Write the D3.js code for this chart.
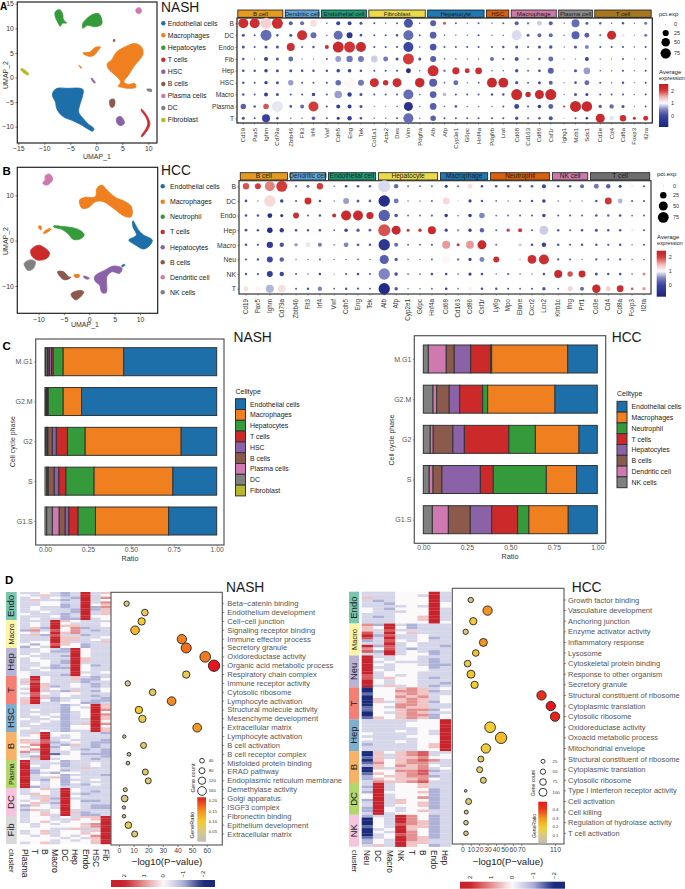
<!DOCTYPE html>
<html><head><meta charset="utf-8">
<script src="https://cdn.jsdelivr.net/npm/d3@7"></script>
<style>html,body{margin:0;padding:0;background:#fff}svg{display:block;font-family:"Liberation Sans",Arial,sans-serif}</style>
</head><body><svg id="fig" width="685" height="889"></svg>
<script>
// ---------- shared category colours
const blue="#1c6fa8",orange="#f07f1f",green="#359a39",red="#cc2a2a",purple="#8b62a8",brown="#8b5a4c",pink="#d078b0",gray="#808080",olive="#b6b82a";

// ---------- A: UMAP NASH
const umapNames=["Endothelial cells","Macrophages","Hepatocytes","T cells","HSC","B cells","Plasma cells","DC","Fibroblast"];
const umapColors=[blue,orange,green,red,purple,brown,pink,gray,olive];
const blobsA=[
 {c:0,p:[[-8.3,-2.9],[-7.5,-2.2],[-5.7,-2.2],[-2.6,-2.4],[-2.6,-3.6],[-3.1,-5.3],[-3.4,-7],[-2.8,-8],[-1.5,-9.5],[-.45,-10.4],[-.7,-10.9],[-1.7,-10.4],[-3.1,-9.5],[-4.7,-8.7],[-6.3,-8],[-7.5,-6.6],[-7.9,-4.9],[-8.4,-3.8]]},
 {c:1,p:[[3.9,5.2],[5.5,6.2],[7.4,6.9],[8.7,6.2],[9,4.9],[8.4,3.7],[7.4,2.5],[6.2,.5],[5.3,-.9],[6.2,-1.4],[7.4,-1.2],[7.6,-2],[6.2,-2.2],[4.9,-2],[4.2,-1.8],[4.7,-.9],[3.6,.5],[2.3,1.8],[2.1,2.8],[2.9,3.5]]},
 {c:1,p:[[-2.6,5],[-1.2,5.2],[-.25,6.1],[.8,6.2],[.4,5.6],[-.45,4.5],[-1.2,4.3],[-2,4.5]]},
 {c:1,p:[[-3.4,2.5],[-2.8,2],[-3,1.9],[-3.3,2.4]]},
 {c:2,p:[[-7.9,13.3],[-7.1,13.8],[-6.5,13],[-6.3,11.7],[-5.7,11.1],[-6.6,11],[-6.9,10.4],[-7.5,11.4],[-7.9,12.4]]},
 {c:2,p:[[-2.6,11],[-2,11.8],[-.9,12.7],[.4,13],[1,12],[1,10.8],[-.25,10.3],[-1.7,10.6],[-2.6,10]]},
 {c:6,p:[[7.6,13.8],[8.3,14.2],[8.7,13.7],[8.4,13],[7.8,13.1]]},
 {c:8,p:[[-14.5,1.8],[-14,1.7],[-13,.7],[-13.2,.5],[-14.5,1.5]]},
 {c:4,p:[[-1,-.2],[-.8,-.2],[-.2,-1.1],[-.4,-1.1]]},
 {c:4,p:[[3.9,-8.3],[4.6,-7.9],[5.2,-8.5],[5.4,-9.3],[4.7,-9.8],[4,-9.3]]},
 {c:5,p:[[2.6,-4.6],[3.4,-4.4],[3.6,-5.1],[3.3,-6],[2.8,-6]]},
 {c:5,p:[[3.3,7.7],[3.6,7.7],[3.5,7.3],[3.3,7.3]]},
 {c:3,p:[[8.65,-6.4],[9.7,-7.7],[10.3,-9.35],[10,-10.4],[8.7,-12.1],[8.65,-11.9],[9.55,-10.4],[9.9,-9.35],[9.5,-8],[8.6,-6.6]]},
 {c:7,p:[[9.7,-2.4],[10.6,-2.4],[10.6,-2.85],[9.9,-2.7]]}
];

// ---------- B: UMAP HCC
const umapNamesB=["Endothelial cells","Macrophages","Neutrophil","T cells","Hepatocytes","B cells","Dendritic cell","NK cells"];
const umapColorsB=[blue,orange,green,red,purple,brown,pink,gray];
const blobsB=[
 {c:0,p:[[8.6,4.4],[9.7,2.35],[10.7,1.25],[12.4,.15],[12,-.95],[10.7,-1.85],[9.1,-.95],[7.8,.15],[8.75,.75],[9.3,1.25],[8.6,3.1]]},
 {c:1,p:[[-1.9,8.95],[-.8,9.55],[1.2,9.7],[1.5,11.5],[2.5,12.25],[3.5,11.15],[5.1,9.55],[7.1,8.6],[8.3,7.5],[8.3,5.3],[7.1,5.3],[4.8,7.1],[2.8,8.6],[1.2,8.6],[-.15,7.3],[-1.45,7.15]]},
 {c:1,p:[[-10,3.2],[-9.5,3.2],[-9.5,2.35],[-9.8,2.55]]},
 {c:1,p:[[-9,1.85],[-7.7,2.7],[-7.55,2.5],[-8.9,1.55]]},
 {c:2,p:[[-7,3.25],[-5.05,3.1],[-2.75,2.7],[-1.45,2],[-1,1.25],[-1.8,.35],[-3.2,.3],[-4.1,1.45],[-5.4,2.5],[-7,3]]},
 {c:3,p:[[-11.5,-2.05],[-10,-1],[-9,-1.45],[-7.85,-2.65],[-8.35,-3.9],[-10.3,-4.25],[-11.3,-3.4]]},
 {c:7,p:[[-12.8,-5],[-11.65,-4.25],[-10.65,-4.6],[-11,-6.1],[-12,-6.6],[-12.6,-5.9]]},
 {c:6,p:[[-8.7,14.25],[-7.85,14.7],[-7.2,13.5],[-8.35,12.25],[-9.15,12.6],[-8.7,13.5]]},
 {c:4,p:[[1.05,-7.9],[3.15,-6.45],[4.8,-5.6],[6.45,-6.1],[6,-7.2],[4.5,-6.85],[3.5,-7.9],[3.35,-11.45],[2.5,-11.45],[2,-9.75],[1.2,-9]]},
 {c:4,p:[[-1.1,-7.8],[.05,-8.3],[-.35,-8.5],[-1,-8.2]]},
 {c:1,p:[[-3,-7.55],[-1.9,-7.55],[-2.1,-8.1],[-2.75,-8.1]]},
 {c:5,p:[[-6.25,-6.85],[-5.05,-6.85],[-4.1,-7.95],[-3.6,-8.1],[-4.75,-8.65],[-5.6,-8.1]]},
 {c:5,p:[[-3.6,-11.8],[-2.1,-11],[-1.1,-11.25],[-1.8,-12.5],[-2.75,-13.05]]},
 {c:0,p:[[6.4,-5.5],[6.95,-5.2],[7,-5.4],[6.5,-5.8]]}
];

// ---------- A: dot plot
const genesA=["Cd19","Pax5","Ighm","Cd79a","Zbtb46","Flt3","Irf4","Vwf","Cdh5","Eng","Tek","Col1a1","Acta2","Des","Vim","Pdgfra","Alb","Afp","Cyp3e1","G6pc","Hnf4a","Pdgfrb","Lrat","Cd68","Cd163","Cd86","Csf1r","Ighg1","Mzb1","Sdc1","Cd3e","Cd4","Cd8a","Foxp3","Il2ra"];
const stripNamesA=["B cell","Dendritic cell","Endothelial cell","Fibroblast","Hepatocyte","HSC","Macrophage","Plasma cell","T cell"];
const stripSizesA=[4,3,4,5,5,2,4,3,5];
const stripColorsA=["#e39a1e","#5da5da","#1b9e77","#ebd94a","#1f78b4","#d95f0e","#cc79a7","#8a8a8a","#a6761d"];
const rowsA=["B","DC","Endo","Fib","Hep","HSC","Macro","Plasma","T"];
const pctA=[
 [61,61,75,75, 8,8,26, .5,8,8,4, 1.4,.5,1.4,49,.5, 20,4,1.4,.5,1.4, .5,1.4, 8,2.3,13,8, .5,38,4, 2.3,.7,2.3,.5,4],
 [4,1.4,75,2.3, 4,61,20, .5,49,20,2.8, 1.4,1.4,2.3,61,1.4, 26,.7,.5,.5,1.4, .5,.5, 61,4,8,8, .5,38,13, 1.4,49,4,.2,4],
 [4,1.4,4,4, 38,1.4,2.3, 8,75,75,61, 1.4,1.4,1.4,61,.7, 26,1.4,1.4,1.4,1.4, 1.4,2.3, 4,1.4,4,5.4, .5,4,8, 1.4,1.4,1.4,.5,1.4],
 [2.3,.5,8,4, 13,.5,.5, 1.4,20,23,20, 26,13,4,75,4, 20,.7,.7,.5,.5, 8,1.4, 8,.7,2.3,13, .2,.5,8, .5,.4,1.4,.2,.7],
 [2.8,2.3,6,4, 4,2.8,2.3, 2.3,6,6,2.8, 1.4,1.4,1.4,13,.5, 75,2.3,30,13,26, .7,.7, 6,1.4,3.4,20, .2,4,26, .7,.5,1.4,.4,1.4],
 [2.3,1.4,5.4,4, 16,1.4,1.4, 1.4,17,75,20, 49,16,49,61,55, 38,1,13,.5,1, 60,60, 4.7,1.4,4,8, .4,2.8,13, 1.4,.5,2.3,.4,1.4],
 [2.3,1.4,8,4, 1.4,1.4,5.4, 1.4,34,10,4, 1.4,1.4,1.4,61,.7, 26,6,1.4,1.4,1.4, 2.3,2.3, 75,16,49,75, .5,4,4, 1.4,1.4,1.4,.5,1.4],
 [16,2.3,17,75, 2.8,8,61, 1.4,8,8,4, .4,.2,.7,49,.5, 26,.7,2.8,.5,.5, .5,1.4, 13,1.4,6,13, 1.4,75,67, 5.4,10,4,.2,1.4],
 [4,1.4,38,2.8, .7,.7,6, 1.4,4,10,2.8, .5,.5,1.4,61,.5, 17,1.4,1.4,1.4,1.4, 1.4,1.4, 5.4,1.4,2.8,8, .2,1.4,2.3, 49,13,23,4,13]
];
const expA=[
 [2.2,2.2,1.3,2.2, .2,.3,1.2, 0,-.1,0,.1, .1,.3,.2,.1,.1, .2,1.9,.2,.3,.2, .3,.2, .2,.5,.8,.2, .3,.3,.2, .2,.3,.1,.3,.4],
 [.1,.1,.3,.1, .1,2.2,.3, .2,.3,-.4,.1, .1,.1,.1,.3,.2, .2,.3,.3,.3,.1, .3,.3, .85,.2,.3,.3, .3,.2,.2, .2,2.3,.9,.5,.4],
 [.1,.1,0,.1, 2.2,.1,.1, 2.2,2.3,2.1,2.3, .1,.1,.1,0,.2, .1,.1,.1,.1,.1, .1,.1, .1,.1,.1,.1, .3,.1,.5, .1,.1,.1,.2,.1],
 [.1,.5,-.2,.1, .3,.5,.5, .1,.6,.4,.4, .8,.4,.1,2,.1, .2,.3,.3,.3,.3, .3,.1, .1,.3,.1,.3, .5,.5,0, .4,.5,.2,.5,.3],
 [.1,.1,-.1,.1, .1,.1,.1, .1,-.1,-.1,.1, .1,.1,.1,-.6,.2, 2.2,.4,2.2,2.2,2.2, .3,.3, .1,.3,.1,.2, .6,.1,.6, .2,.3,.1,.4,.1],
 [.1,.1,-.1,.1, .6,.1,.1, .1,.3,1.05,.4, 2.2,2.2,2.2,1,2.3, .2,.3,.3,.4,.1, 2.3,2.3, .1,.2,.1,.2, .4,.1,.3, .1,.3,.1,.4,.1],
 [.1,.1,-.1,.1, .1,.1,-.1, .1,.6,-.2,.1, .1,.1,.1,.3,.2, .2,.7,.1,.1,.1, .1,.1, 2.3,2.3,2.3,2.3, .4,.1,-.1, .1,.1,.1,.3,.1],
 [.2,.1,1.9,.9, .1,.3,2, .1,-.1,-.2,.1, .5,.5,.3,-.5,.3, .2,.4,.2,.3,.3, .3,.1, 0,.1,-.1,.2, 2.2,2.3,2.3, .2,.3,.1,.5,.2],
 [.1,.1,-.1,.1, .3,.3,.2, .2,-.3,-.2,.1, .4,.4,.1,.3,.3, .2,.1,.1,.1,.1, .1,.1, .1,.2,.1,.1, .6,.1,-.5, 2.3,.9,2.2,2.2,2.2]
];

// ---------- B: dot plot
const genesB=["Cd19","Pax5","Ighm","Cd79a","Zbtb46","Flt3","Irf4","Vwf","Cdh5","Eng","Tek","Alb","Afp","Cyp2e1","G6pc","Hnf4a","Cd68","Cd163","Cd86","Csf1r","Ly6g","Mpo","Elane","Cxcr2","Lcn2","Klrb1c","Ifng","Prf1","Cd3e","Cd4","Cd8a","Foxp3","Il2ra"];
const stripNamesB=["B cell","Dendritic cell","Endothelial cell","Hepatocyte","Macrophage","Neutrophil","NK cell","T cell"];
const stripSizesB=[4,3,4,5,4,5,3,5];
const stripColorsB=["#e39a1e","#5da5da","#1b9e77","#ebd94a","#1f78b4","#d95f0e","#cc79a7","#6e6e6e"];
const rowsB=["B","DC","Endo","Hep","Macro","Neu","NK","T"];
const pctB=[
 [23,20,61,75, 1.4,4,23, .7,2.8,2.8,2.3, 90,10,1.4,1.4,1.4, 4,1.4,13,2.3, 2.8,2.8,2.3,2.8,8, 2.8,2.8,8, 13,10,4,.7,1.4],
 [2.8,.7,81,6, 1.4,28,2.3, .5,20,4,2.8, 81,13,.7,.7,1.4, 28,.7,4.7,2.3, 1,.7,1.4,2.3,6, .7,.5,.5, 2.3,28,13,1.4,1.4],
 [2.8,2.3,12,4.7, 20,1.4,2.3, 8,61,61,30, 81,6,1.4,1.4,1.8, 6,1,6,17, 1,1.4,1.4,1.4,5.4, 1.4,1.4,1.4, 2.8,2.3,2.8,1,1.4],
 [3.4,2.3,17,10, 2.8,2.3,2.8, 1,6,5.4,3.4, 90,49,4,5.4,38, 4.7,2.3,5.4,10, 1.4,4.7,8,1.4,49, 2.3,1.4,2.3, 4,2.3,2.3,.7,1.4],
 [2.8,1.8,23,10, 6,13,8, .7,12,3.4,2.3, 81,8,1.4,1.4,1.8, 38,4,38,49, 1.4,.5,4.7,2.8,10, 2.3,1.4,2.3, 2.3,1.8,2.3,.7,1.4],
 [1.4,2.3,20,10, .5,.7,1.4, .5,.7,1,.5, 50,4.7,.7,.7,1.4, 38,2.3,4.7,13, 20,.7,1.4,47,61, 1.8,1.4,.25, 1.8,1,1.8,.7,.7],
 [2.3,1.8,20,10, 1.4,.7,2.3, .25,1.4,2.8,1.4, 81,6.3,1,1,2.8, 2.3,1,4.7,2.8, .7,1.4,.7,.5,2.8, 38,16,28, 4,2.3,2.8,1,4],
 [13,8,38,34, 1.4,2.3,10, 1,2.3,1.8,1, 81,5.4,.7,.7,1, 2.8,1,8,2.8, 2.3,1.4,1,1.4,5.4, 1,13,8, 42,13,26,2.8,5.4]
];
const expB=[
 [1.9,2,1.7,2, .1,.3,2, .3,0,.1,.1, .85,.3,.3,.4,.3, -.3,.2,1.2,-.1, .1,.1,.1,.1,0, .1,.1,.3, .4,.2,0,1.3,.1],
 [.1,.5,1.25,0, .1,2.2,.1, .3,.6,.2,.2, -.6,.4,.4,.4,.2, 1.25,.8,-.1,.1, .3,.4,.1,.1,-.1, .3,.4,.4, .1,2.1,.7,.1,.1],
 [.1,.1,-.6,-.1, 2.2,.2,.1, 2.2,2.3,2.3,2.3, .2,.1,.3,.4,.2, -.2,.5,-.2,.5, .3,.3,.2,.1,-.1, .1,.1,.2, .1,.2,.1,.3,.2],
 [.1,.1,-.6,-.2, .1,.1,.1, .3,0,.2,.2, 1.9,2.3,2.1,2.1,2.3, -.1,.6,-.1,.2, .2,2,2.1,.1,.8, .1,.2,.1, .1,.1,.1,.8,.1],
 [.1,.1,-.3,.1, .6,.9,.4, .3,.5,.2,.1, -.4,.3,.3,.3,.2, 1.6,2.1,1.6,2.3, .3,1,.8,.1,-.1, .1,.1,.1, .1,.1,.1,.4,.1],
 [.1,.1,0,.2, .4,.3,.2, .3,.3,.2,.3, .2,.1,.3,.3,.2, 1.05,.4,-.1,.5, 2.2,1,.8,2.2,2.2, .1,.2,.3, .1,.1,.1,.3,.2],
 [.1,.1,-.2,0, .1,.3,0, .4,.1,.1,.1, .5,.1,.2,.3,.1, -.1,.4,-.1,.1, .3,.1,.2,.3,.1, 2.3,1.9,2.3, .1,.1,.1,.4,1.7],
 [1.2,1.1,.7,1.2, .1,.1,.5, .2,.1,.1,.1, -.7,.1,.3,.3,.2, -.2,.4,1.1,.1, .1,.1,.1,.1,.1, .1,1.3,.3, 2.3,1.3,2.2,1.9,1.6]
];

// ---------- C: stacked bars
const phases=["M.G1","G2.M","G2","S","G1.S"];
const cellC1=["Endothelial cells","Macrophages","Hepatocytes","T cells","HSC","B cells","Plasma cells","DC","Fibroblast"];
const colorsC1=[blue,orange,green,red,purple,brown,pink,gray,olive];
const ratioC1=[
 [.542,.352,.058,.010,.012,.008,.004,.010,.004],
 [.787,.107,.087,.002,.004,.004,.001,.006,.002],
 [.207,.559,.103,.065,.023,.026,.005,.007,.005],
 [.255,.459,.164,.041,.027,.035,.003,.006,.010],
 [.280,.426,.101,.054,.021,.035,.040,.033,.010]
];
const cellC2=["Endothelial cells","Macrophages","Neutrophil","T cells","Hepatocytes","B cells","Dendritic cell","NK cells"];
const colorsC2=[blue,orange,green,red,purple,brown,pink,gray];
const ratioC2=[
 [.170,.437,.006,.115,.094,.046,.103,.029],
 [.243,.387,.029,.132,.060,.072,.021,.056],
 [.105,.251,.152,.256,.066,.113,.017,.040],
 [.119,.174,.305,.074,.221,.051,.022,.034],
 [.167,.226,.065,.149,.123,.126,.092,.052]
];

// ---------- D: heatmaps (digit 0..8 is -2..+2 z-score, in 0.5 steps)
const hmColsN=["Plasma","T","B","Macro","DC","Hep","Endo","HSC","Fib"];
const hmGroupsN=["Endo","Macro","Hep","T","HSC","B","Plasma","DC","Fib"];
const hmColorsN=["#78c7af","#fbf5a6","#b9b3d6","#f47f72","#7fafd0","#f8b267","#b1d86a","#f7c4de","#d9d9d9"];
const hmRowsN=[
 "334323835","435323834","343432836","353323834","334433836","334423845","343323826","343332825","334332835","433323835","333423844","343322834",
 "333854333","343843334","343855334","352846233","263746323","434856333","352733233","333855334","333855343","344853335","424754233","243844233",
 "334328433","334228433","343338433","433328433","343338533","344328533","334328333","334238423","343228433","334338433","433338334","433328433",
 "484335323","384335224","574333233","385334323","485234323","383433334","485325324","374344333","473343323","385233332","584234322","583344223",
 "333323485","333324385","343324486","333323484","343423486","334323485","433423385","334323384","343323586","333324484","433324485","334323385",
 "358444332","348434333","448334333","537343332","557234322","468325323","548243323","468343232","638334332","348134222","328444332","458344323",
 "833423333","833323343","843423343","833433533","824423333","823244333","834423332","833524333","832423343","843424333","843423243","823433333",
 "345384333","344384323","354383233","435384333","435283333","345384223","453284333","254384322","344384322","253483333","345485233","345383223",
 "344343558","344335458","345434448","434344568","434444368","444335538","345344358","345344548","434343468","444434358","444343458","345344458"
];
const hmColsH=["Neu","DC","Macro","NK","T","B","Endo","Hep"];
const hmGroupsH=["Endo","Macro","Neu","T","Hep","B","DC","NK"];
const hmColorsH=["#78c7af","#fbf5a6","#b9b3d6","#f47f72","#7fafd0","#f8b267","#b1d86a","#f7c4de"];
const hmRowsH=[
 "33344483","33344383","53344483","32344483","33244484","33334384","43244483","43334483","33344483","32344583","33344583","33344484",
 "62832333","54842333","53733333","73845333","82733433","73833423","23743433","33834333","82734332","64732333","72834323","33834423",
 "83344333","84344323","83433323","84344322","83344423","84344433","83444333","73434333","73544323","84344333","84344332","83534323",
 "04456534","04466523","14456533","04465634","05456534","05356524","04466533","14365533","14456624","04356533","04456624","15456524",
 "33333448","33334448","33334448","33333448","33343438","43333438","33334448","43333448","33343448","23333458","33333458","33333448",
 "05456733","05356734","15355644","05456763","16456633","25465643","05355634","04466723","15456733","24556623","25455643","36556733",
 "38344533","28344533","38344423","28444523","48344423","48344623","28354423","38354523","38344523","28434423","28434533","38344433",
 "23386423","04386423","04386523","04376523","14385523","03485423","04386423","03476423","13486523","24386533","24385533","35385423"
];

// ---------- D: enrichment dots
const termsN=["Beta\u2212catenin binding","Endothelium development","Cell\u2212cell junction","Signaling receptor binding","Immune effector process","Secretory granule","Oxidoreductase activity","Organic acid metabolic process","Respiratory chain complex","Immune receptor activity","Cytosolic ribosome","Lymphocyte activation","Structural molecule activity","Mesenchyme development","Extracellular matrix","Lymphocyte activation","B cell activation","B cell receptor complex","Misfolded protein binding","ERAD pathway","Endoplasmic reticulum membrane","Demethylase activity","Golgi apparatus","ISGF3 complex","Fibronectin binding","Epithelium development","Extracellular matrix"];
const pvalN=[5.2,17.7,15.5,11,43,46,59,65,46,6,23,36,13.6,16,53.5,3.6,16.8,6.8,6.1,18,20,4.3,3.9,3.4,3.4,6.4,10.7];
const countN=[60,100,120,160,180,200,220,240,120,60,100,160,120,120,160,0,80,10,10,80,80,20,100,0,5,100,80];
const ratioN=[.05,.07,.1,.12,.16,.17,.165,.22,.08,.05,.07,.155,.1,.085,.145,.04,.07,.03,.03,.07,.065,.05,.05,.03,.03,.075,.06];
const termsH=["Growth factor binding","Vasculature development","Anchoring junction","Enzyme activator activity","Inflammatory response","Lysosome","Cytoskeletal protein binding","Response to other organism","Secretory granule","Structural constituent of ribosome","Cytoplasmic translation","Cytosolic ribosome","Oxidoreductase activity","Oxoacid metabolic process","Mitochondrial envelope","Structural constituent of ribosome","Cytoplasmic translation","Cytosolic ribosome","Type I interferon receptor activity","Cell activation","Cell killing","Regulation of hydrolase activity","T cell activation"];
const pvalH=[10,30,13,4,25,16,6.3,10.3,14.6,94,105,110,33,46,28,22,20.6,25,4,7.5,4.7,4.4,4.4];
const countH=[50,125,87,50,100,75,75,100,87,125,125,125,150,162,125,62,62,62,0,62,25,37,37];
const ratioH=[.09,.3,.19,.1,.3,.22,.17,.21,.2,.43,.5,.45,.19,.23,.18,.14,.13,.13,.08,.12,.1,.1,.1];

// ---------- scales shared
const dotColor=d3.scaleLinear().domain([-.9,0,.5,1,1.5,2,2.5]).range(["#1a237e","#3c46a0","#7f85c2","#ffffff","#efb2b2","#d33a3a","#c01f26"]).clamp(true);
const dotSize=d3.scaleSqrt().domain([0,100]).range([.3,6.3]);
const zColor=d3.scaleLinear().domain([-2,-1,0,1,2]).range(["#1b2a7b","#aeb2d8","#fbf9fa","#e48f8f","#c8232c"]).clamp(true);
const ratioRange=["#bdbdbd","#d8c78a","#f4cc2e","#f39321","#ea3a1c","#e6141c"];
const ratioColorN=d3.scaleLinear().domain([0,.05,.1,.15,.2,.22]).range(ratioRange);
const ratioColorH=d3.scaleLinear().domain([0,.1,.2,.3,.4,.5]).range(ratioRange);

const svg=d3.select("#fig");
const defs=svg.append("defs");
let gradId=0;
function gradient(fn,vert){ // fn(t) color at t in [0,1]
 const id="g"+(gradId++);
 const g=defs.append("linearGradient").attr("id",id).attr("x1",0).attr("y1",vert?1:0).attr("x2",vert?0:1).attr("y2",0);
 d3.range(0,1.0001,.05).forEach(t=>g.append("stop").attr("offset",t).attr("stop-color",fn(t)));
 return "url(#"+id+")";
}
function text(x,y,s,size,o={}){
 const t=svg.append("text").attr("x",x).attr("y",y).attr("font-size",size).attr("fill",o.fill||"#1a1a1a").attr("text-anchor",o.anchor||"start").text(s);
 if(o.weight)t.attr("font-weight",o.weight);
 if(o.rot!=null){t.attr("transform",`rotate(${o.rot},${x},${y})`);}
 if(o.dy)t.attr("dy",o.dy);
 return t;
}
function frame(x0,y0,x1,y1,col,w){svg.append("rect").attr("x",x0).attr("y",y0).attr("width",x1-x0).attr("height",y1-y0).attr("fill","none").attr("stroke",col||"#222").attr("stroke-width",w||1.2);}
function styleAxis(g,size,col){
 g.select(".domain").remove();
 g.selectAll("line").attr("stroke",col||"#333").attr("stroke-width",.6);
 g.selectAll("text").attr("font-size",size).attr("fill",col||"#333").attr("font-family",'"Liberation Sans",Arial,sans-serif');
}

// ---------- panels A, B UMAP
function umap(blobs,colors,names,F,xd,xr,yd,yr,xt,yt,opt){
 const x=d3.scaleLinear().domain(xd).range(xr), y=d3.scaleLinear().domain(yd).range(yr);
 const line=d3.line().x(d=>x(d[0])).y(d=>y(d[1])).curve(d3.curveCatmullRomClosed.alpha(.5));
 svg.append("g").selectAll("path").data(blobs).join("path").attr("d",d=>line(d.p))
   .attr("fill",d=>colors[d.c]).attr("stroke",d=>colors[d.c]).attr("stroke-width",.8).attr("stroke-linejoin","round");
 frame(F[0],F[1],F[2],F[3],"#222",1.2);
 const ax=svg.append("g").attr("transform",`translate(0,${F[3]})`).call(d3.axisBottom(x).tickValues(xt).tickSize(2).tickPadding(1.5));
 styleAxis(ax,6.8);
 const ay=svg.append("g").attr("transform",`translate(${F[0]},0)`).call(d3.axisLeft(y).tickValues(yt).tickSize(2).tickPadding(1.5));
 styleAxis(ay,6.8);
 text(opt.lx,opt.ly,"UMAP_1",7,{anchor:"middle",fill:"#333"});
 text(5.8,opt.vy,"UMAP_2",7,{anchor:"middle",rot:-90,dy:2,fill:"#333"});
 names.forEach((n,i)=>{
  svg.append("circle").attr("cx",opt.dx).attr("cy",opt.ys[i]).attr("r",2.2).attr("fill",colors[i]);
  text(opt.tx,opt.ys[i]+2.4,n,opt.fs,{fill:"#222"});
 });
}
umap(blobsA,umapColors,umapNames,[17.3,2,157,143],[-15,10],[18.3,148.3],[-10,15],[126.7,3.7],[-15,-10,-5,0,5,10],[-10,-5,0,5,10,15],
 {lx:97,ly:159,vy:75,dx:163.3,tx:167.7,fs:6.9,ys:[23.3,35.3,47.7,59.7,71.7,84,96,108,120]});
umap(blobsB,umapColorsB,umapNamesB,[17.3,167.3,157.7,313.3],[-10,10],[38.5,140],[-10,10],[286,195.3],[-10,-5,0,5,10],[-10,0,10],
 {lx:85,ly:327,vy:241,dx:162.7,tx:170,fs:6.9,ys:[186.3,201.7,216.7,232,247.3,262.3,277.3,292.3]});

// ---------- dot plots
function dotplot(genes,rows,pct,exp,sNames,sSizes,sColors,o){
 const groupOf=[];sSizes.forEach((n,g)=>{for(let i=0;i<n;i++)groupOf.push(g);});
 const slot=genes.map((_,i)=>i+groupOf[i]*o.gap);
 const x=d3.scaleLinear().domain([0,slot[slot.length-1]]).range(o.xr);
 const y=d3.scalePoint().domain(rows).range(o.yr);
 const half=(o.xr[1]-o.xr[0])/slot[slot.length-1]/2;
 let k=0;
 sNames.forEach((n,g)=>{
  const a=x(slot[k])-half+.2,b=x(slot[k+sSizes[g]-1])+half-.2;k+=sSizes[g];
  svg.append("rect").attr("x",a).attr("y",o.sy[0]).attr("width",b-a).attr("height",o.sy[1]-o.sy[0]).attr("fill",sColors[g]).attr("stroke","#1c1c1c").attr("stroke-width",.8);
  text((a+b)/2,o.sy[1]-1.6,n,o.sf,{anchor:"middle",fill:"#1a1a1a"});
 });
 frame(o.F[0],o.F[1],o.F[2],o.F[3],o.fc,o.fw);
 const cells=[];
 rows.forEach((r,ri)=>genes.forEach((g,gi)=>cells.push({r,gi,p:pct[ri][gi],e:exp[ri][gi]})));
 svg.append("g").selectAll("circle").data(cells).join("circle").attr("cx",d=>x(slot[d.gi])).attr("cy",d=>y(d.r)).attr("r",d=>dotSize(d.p)).attr("fill",d=>dotColor(d.e));
 genes.forEach((g,i)=>{
  const px=x(slot[i]);
  svg.append("line").attr("x1",px).attr("x2",px).attr("y1",o.F[3]).attr("y2",o.F[3]+1.5).attr("stroke","#333").attr("stroke-width",.5);
  text(px,o.F[3]+o.gy,g,o.gf,{anchor:"end",rot:-90,dy:2,fill:"#333"});
 });
 const ay=svg.append("g").attr("transform",`translate(${o.F[0]},0)`).call(d3.axisLeft(y).tickSize(1.5).tickPadding(1.5));
 styleAxis(ay,o.rf);
 // legends
 text(o.lx,o.pctY,"pct.exp",o.lf);
 o.pctKeys.forEach((p,i)=>{
  svg.append("circle").attr("cx",o.kx).attr("cy",o.kys[i]).attr("r",d3.scaleSqrt().domain([0,100]).range([.3,o.kMax])(p)).attr("fill","#000");
  text(o.ktx,o.kys[i]+1.8,String(p),o.lf-.5,{fill:"#333"});
 });
 text(o.lx,o.avgY,"Average",o.lf);
 text(o.lx,o.avgY+6.3,"expression",5.3);
 const cb=d3.scaleLinear().domain([2,1,0]).range(o.cbv);
 const grad=gradient(t=>dotColor(cb.invert(o.cby[1]+(o.cby[0]-o.cby[1])*t)),true);
 svg.append("rect").attr("x",o.cbx[0]).attr("y",o.cby[0]).attr("width",o.cbx[1]-o.cbx[0]).attr("height",o.cby[1]-o.cby[0]).attr("fill",grad);
 [2,1,0].forEach(v=>text(o.cbx[1]+2.7,cb(v)+1.9,String(v),o.lf-.5,{fill:"#333"}));
}
dotplot(genesA,rowsA,pctA,expA,stripNamesA,stripSizesA,stripColorsA,{gap:.177,xr:[243.3,645.7],yr:[23.3,118.3],sy:[10,17.3],sf:6.1,F:[237,18,652.3,123],fc:"#1c1c1c",fw:1.2,gy:5,gf:6,rf:6.6,
 lx:659,pctY:15.7,lf:6,pctKeys:[0,25,50,75],kx:665.7,kys:[24.3,33,42.3,53.3],ktx:674,kMax:5.9,avgY:74,cbv:[90.7,103,115.7],cbx:[659,668.3],cby:[84,127]});
dotplot(genesB,rowsB,pctB,expB,stripNamesB,stripSizesB,stripColorsB,{gap:.2,xr:[246,644],yr:[186.3,288.7],sy:[172.7,180],sf:6.6,F:[239,180.7,651,294],fc:"#333",fw:1.2,gy:5,gf:6.3,rf:6.8,
 lx:657,pctY:176.3,lf:6,pctKeys:[0,25,50,75],kx:663.3,kys:[185.7,195.3,206,217.3],ktx:673,kMax:6.2,avgY:238.7,cbv:[257,271,284.7],cbx:[656.7,666],cby:[250.7,296.7]});

// ---------- C
function stacked(cells,colors,ratio,F,xr,yc,o){
 const table=phases.map((p,i)=>{const r={phase:p};cells.forEach((c,j)=>r[c]=ratio[i][j]);return r;});
 const series=d3.stack().keys(cells.slice().reverse())(table);
 const x=d3.scaleLinear().domain([0,1]).range(xr);
 const y=d3.scalePoint().domain(phases).range(yc);
 const colorOf=d3.scaleOrdinal().domain(cells).range(colors);
 frame(F[0],F[1],F[2],F[3],"#555",1.2);
 const g=svg.append("g");
 series.forEach(s=>{
  g.append("g").selectAll("rect").data(s).join("rect")
   .attr("x",d=>x(d[0])).attr("width",d=>Math.max(0,x(d[1])-x(d[0])))
   .attr("y",d=>y(d.data.phase)-14).attr("height",28)
   .attr("fill",colorOf(s.key)).attr("stroke","#333").attr("stroke-width",1);
 });
 const ax=svg.append("g").attr("transform",`translate(0,${F[3]})`).call(d3.axisBottom(x).tickValues([0,.25,.5,.75,1]).tickFormat(d3.format(".2f")).tickSize(1.5).tickPadding(.3));
 styleAxis(ax,6.8,"#555");
 const ay=svg.append("g").attr("transform",`translate(${F[0]},0)`).call(d3.axisLeft(y).tickSize(1.5).tickPadding(1.5));
 styleAxis(ay,7,"#555");
 text(o.rx,o.ry,"Ratio",7.2,{anchor:"middle",fill:"#333"});
 text(o.cx,o.cy,"Cell cycle phase",7,{anchor:"middle",rot:-90,dy:2,fill:"#333"});
 text(o.tx,o.ty,o.title,13.8);
 text(o.lx,o.lty,"Celltype",7,{fill:"#222"});
 cells.forEach((c,i)=>{
  svg.append("rect").attr("x",o.lx).attr("y",o.ly+i*10.8).attr("width",10).attr("height",10.8).attr("fill",colors[i]).attr("stroke","#333").attr("stroke-width",1);
  text(o.lx+14.5,o.ly+i*10.8+7.8,c,6.9,{fill:"#222"});
 });
}
stacked(cellC1,colorsC1,ratioC1,[35.7,339,224,545],[45,216.7],[361.7,521],{rx:130,ry:560.5,cx:13.3,cy:441.7,tx:233.5,ty:342,title:"NASH",lx:235.5,lty:394,ly:398.7});
stacked(cellC2,colorsC2,ratioC2,[414.3,335.7,605.7,543.3],[423.3,597.3],[359,519.7],{rx:510,ry:559,cx:392.3,cy:440,tx:611.7,ty:342,title:"HCC",lx:617,lty:396,ly:401.3});

// ---------- D heatmaps
function heatmap(groups,gColors,cols,rows,o){
 const perGroup=rows.length/groups.length;
 const gy=d3.scaleBand().domain(groups).range(o.yr);
 const x=d3.scaleBand().domain(cols).range(o.xr);
 const rowH=gy.bandwidth()/perGroup;
 const cells=[];
 rows.forEach((r,ri)=>cols.forEach((c,ci)=>cells.push({ri,c,v:(+r[ci]-4)*.5})));
 const yr=d3.scaleLinear().domain([0,rows.length]).range(o.yr);
 svg.append("g").selectAll("rect").data(cells).join("rect").attr("x",d=>x(d.c)).attr("y",d=>yr(d.ri)).attr("width",x.bandwidth()+.2).attr("height",rowH+.2).attr("fill",d=>zColor(d.v));
 groups.forEach((g,i)=>{
  svg.append("rect").attr("x",o.ax[0]).attr("y",gy(g)).attr("width",o.ax[1]-o.ax[0]).attr("height",gy.bandwidth()).attr("fill",gColors[i]);
  const fs=g==="Plasma"?6.4:(g==="Macro"?7.5:9.5);
  text((o.ax[0]+o.ax[1])/2,gy(g)+gy.bandwidth()/2,g,fs,{anchor:"middle",rot:-90,dy:3,fill:"#222"});
 });
 cols.forEach(c=>text(x(c)+x.bandwidth()/2,o.ly,c,o.lf,{rot:90,dy:3,fill:"#222"}));
 text((o.ax[0]+o.ax[1])/2+1,o.ly,"cluster",o.lf-.6,{rot:90,dy:3,fill:"#222"});
 // z legend
 const z=d3.scaleLinear().domain([2,-2]).range(o.zr);
 const grad=gradient(t=>zColor(z.invert(o.zb[0]+(o.zb[1]-o.zb[0])*t)),false);
 svg.append("rect").attr("x",o.zb[0]).attr("y",o.zy).attr("width",o.zb[1]-o.zb[0]).attr("height",7).attr("fill",grad);
 [2,1,0,-1,-2].forEach(v=>text(z(v),o.zy-2.6,String(v).replace("-","\u2212"),6,{rot:-90,dy:2,anchor:"start",fill:"#222"}));
}
heatmap(hmGroupsN,hmColorsN,hmColsN,hmRowsN,{yr:[592,844],xr:[20,110.7],ax:[6,16.7],ly:849,lf:8.6,zr:[124,203],zb:[111,215],zy:880});
heatmap(hmGroupsH,hmColorsH,hmColsH,hmRowsH,{yr:[591.7,846.7],xr:[361.7,451],ax:[349,359],ly:850,lf:8.2,zr:[470,553.7],zb:[460,565],zy:881.7});

// ---------- D enrichment
function enrich(terms,pv,cnt,rat,colorFn,o){
 const x=d3.scaleLinear().domain(o.xd).range(o.xr);
 const y=d3.scalePoint().domain(d3.range(terms.length)).range(o.yr);
 const size=d3.scaleLinear().domain([0,100]).range(o.sr);
 svg.append("rect").attr("x",o.F[0]).attr("y",o.F[1]).attr("width",o.F[2]-o.F[0]).attr("height",o.F[3]-o.F[1]).attr("fill","#fff").attr("stroke","#555").attr("stroke-width",1.1);
 const pts=terms.map((t,i)=>({i,p:pv[i],c:cnt[i],r:rat[i]}));
 svg.append("g").selectAll("circle").data(pts).join("circle").attr("cx",d=>x(d.p)).attr("cy",d=>y(d.i)).attr("r",d=>size(d.c)).attr("fill",d=>colorFn(d.r)).attr("stroke","#222").attr("stroke-width",.9);
 terms.forEach((t,i)=>{
  svg.append("line").attr("x1",o.F[2]).attr("x2",o.F[2]+2).attr("y1",y(i)).attr("y2",y(i)).attr("stroke","#444").attr("stroke-width",.6);
  text(o.lx,y(i)+2.5,t,o.tf,{fill:"#555"});
 });
 const ax=svg.append("g").attr("transform",`translate(0,${o.F[3]})`).call(d3.axisBottom(x).tickValues(o.xt).tickFormat(d3.format("d")).tickSize(2).tickPadding(1.5));
 styleAxis(ax,6.8,"#444");
 text(o.xlx,o.xly,"\u2212log10(P\u2212value)",9.6,{anchor:"middle",fill:"#222"});
 text(o.tx,592,o.title,13.8);
 // size key
 text(o.gcx,o.gcy,"Gene count",o.kf,{anchor:"middle",rot:-90,dy:1.5});
 o.keys.forEach((k,i)=>{
  svg.append("circle").attr("cx",o.kx).attr("cy",o.kys[i]).attr("r",size(k)).attr("fill","#fff").attr("stroke","#222").attr("stroke-width",.9);
  text(o.ktx,o.kys[i]+1.4,String(k),4.3,{fill:"#333"});
 });
 // colour key
 text(o.grx,o.gry,"GeneRatio",o.kf,{anchor:"middle",rot:-90,dy:1.5});
 const c=d3.scaleLinear().domain(o.cbd).range(o.cbv);
 const grad=gradient(t=>colorFn(c.invert(o.cby[1]+(o.cby[0]-o.cby[1])*t)),true);
 svg.append("rect").attr("x",o.cbx[0]).attr("y",o.cby[0]).attr("width",o.cbx[1]-o.cbx[0]).attr("height",o.cby[1]-o.cby[0]).attr("fill",grad);
 o.cbt.forEach(v=>text(o.ktx,c(v)+1.4,o.fmt(v),4.3,{fill:"#333"}));
}
enrich(termsN,pvalN,countN,ratioN,ratioColorN,{xd:[0,60],xr:[119,206.7],yr:[603.7,834],sr:[1.67,3.34],F:[111,592.3,222.3,845],lx:227.3,tf:7.6,xt:[0,10,20,30,40,50,60],xlx:167,xly:865,tx:226,title:"NASH",
 gcx:193.3,gcy:778,kf:5.6,keys:[40,80,120,160],kx:202,kys:[760.7,770.7,780.7,791],ktx:208.7,grx:192.7,gry:825,cbd:[.2,.05],cbv:[801,832],cbx:[197.3,206],cby:[797.3,841.7],cbt:[.2,.15,.1,.05],fmt:d3.format(".2f")});
enrich(termsH,pvalH,countH,ratioH,ratioColorH,{xd:[0,110],xr:[462.3,555],yr:[600,833.3],sr:[1.33,4],F:[452.3,588.3,564,844],lx:568,tf:7.5,xt:[0,10,20,30,40,50,60,70,110],xlx:508,xly:865,tx:571.7,title:"HCC",
 gcx:533.7,gcy:783,kf:5,keys:[25,50,75,100],kx:543,kys:[761.3,771.7,782,792.3],ktx:552.5,grx:534,gry:826,cbd:[.4,.1],cbv:[809.3,835.7],cbx:[538.3,547],cby:[801.7,843.3],cbt:[.4,.3,.2,.1],fmt:d3.format(".1f")});

// ---------- panel letters
text(0,9.5,"A",10,{weight:"bold",fill:"#000"});
text(2.5,175,"B",11.5,{weight:"bold",fill:"#000"});
text(2.5,350,"C",11.5,{weight:"bold",fill:"#000"});
text(5,584,"D",11.5,{weight:"bold",fill:"#000"});
text(161,11.5,"NASH",13.8);
text(161,175,"HCC",13.8);
</script></body></html>
